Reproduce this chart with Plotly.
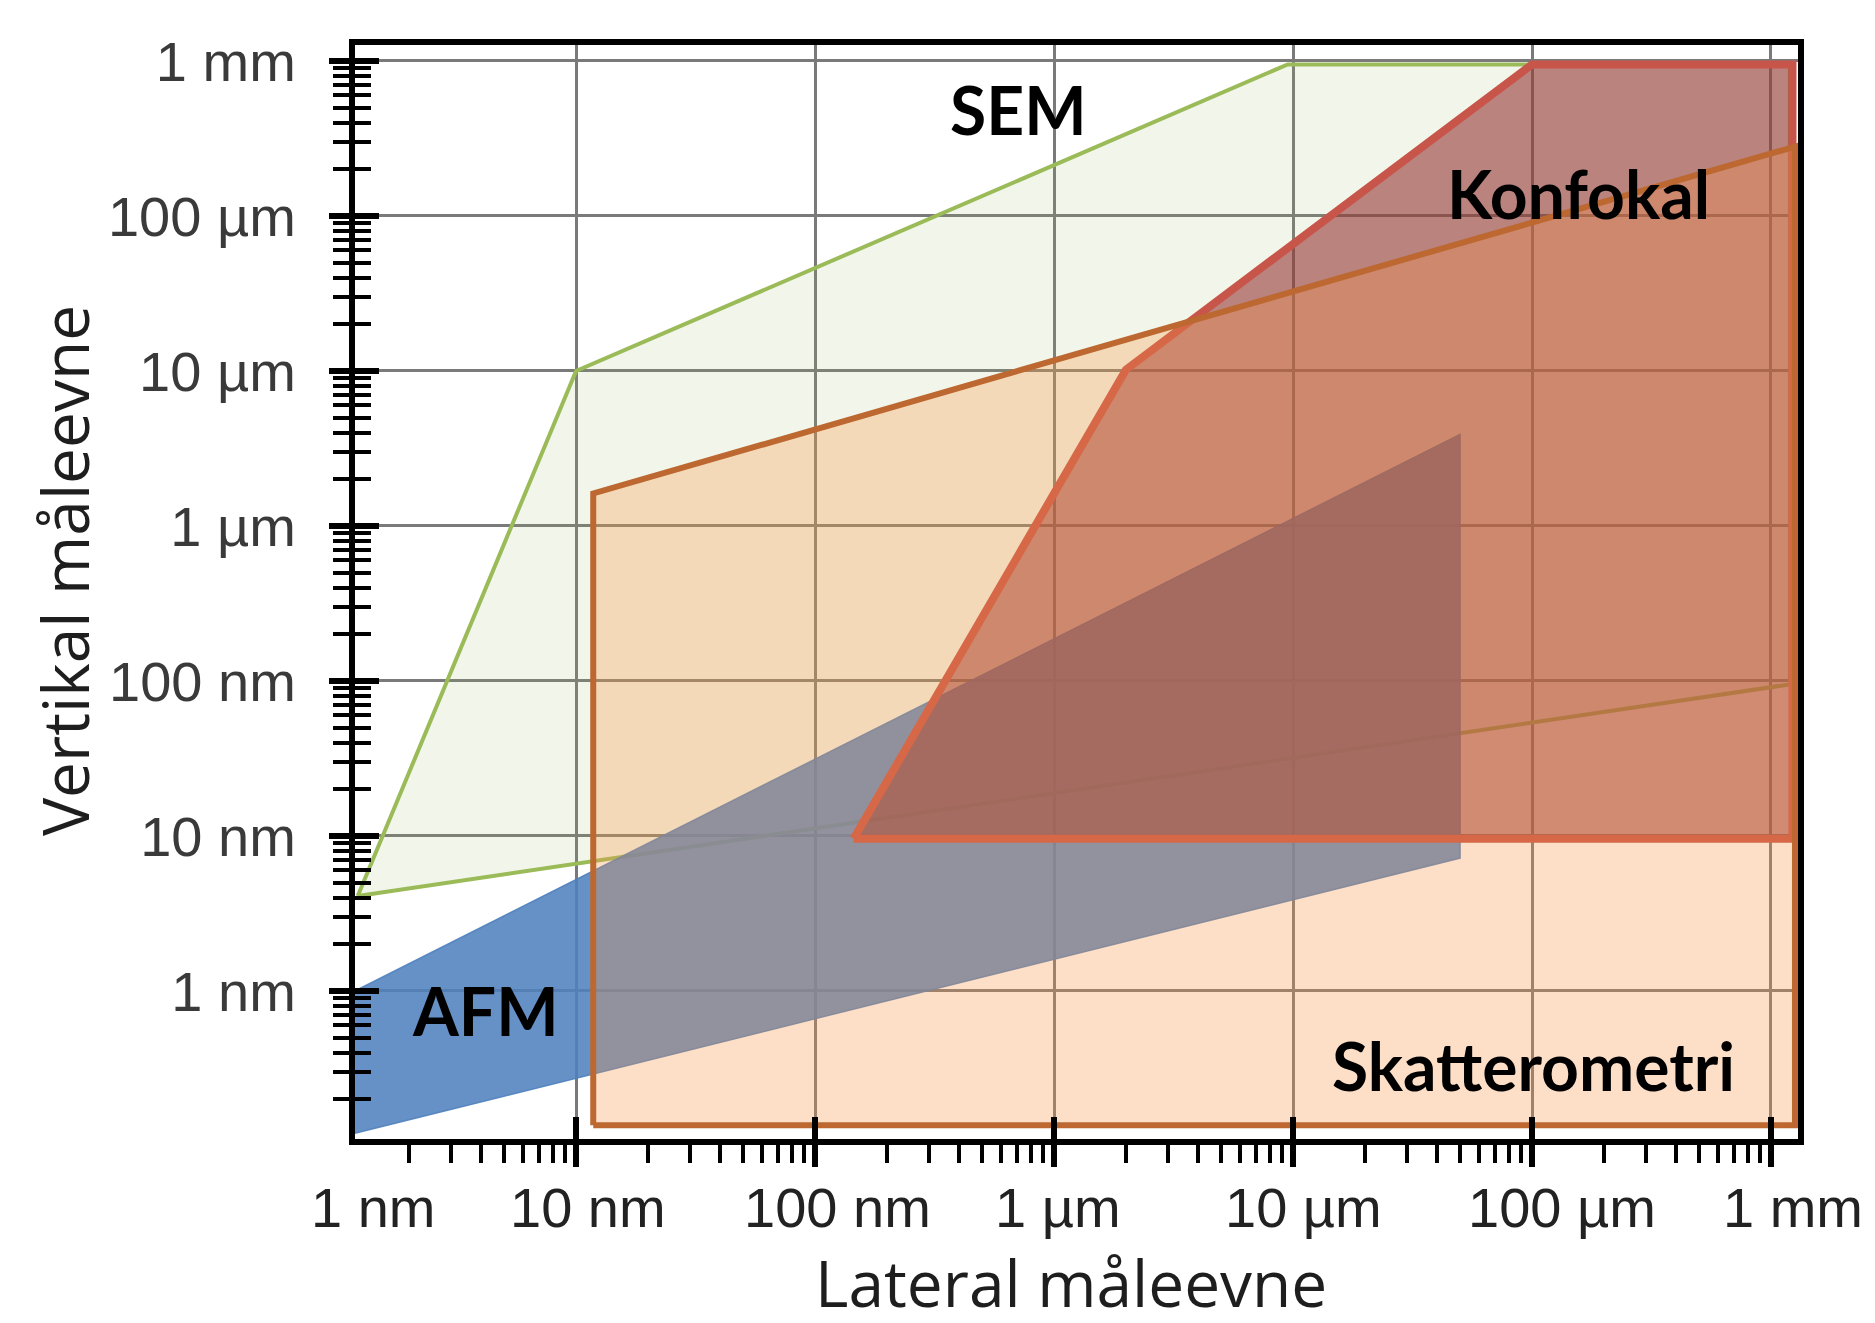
import math
import plotly.graph_objects as go

# ---------------- data (all values in nm) ----------------
SEM_LATERAL = [1.22, 10, 9.5e3, 1.2e6, 1.2e6, 1.22]
SEM_VERTICAL = [4.1, 1.0e4, 9.5e5, 9.5e5, 95, 4.1]

AFM_LATERAL = [1, 5.0e4, 5.0e4, 1, 1]
AFM_VERTICAL = [0.875, 3.9e3, 7.2, 0.113, 0.875]

KONFOKAL_LATERAL = [145, 2.0e3, 1.0e5, 1.23e6, 1.23e6, 145]
KONFOKAL_VERTICAL = [9.6, 1.02e4, 9.5e5, 9.5e5, 9.6, 9.6]

SKATT_LATERAL = [11.8, 11.8, 1.26e6, 1.26e6, 11.8]
SKATT_VERTICAL = [0.136, 1.62e3, 2.8e5, 0.136, 0.136]

TICK_VALS = [1, 10, 100, 1e3, 1e4, 1e5, 1e6]
X_TICK_TEXT = ["1 nm", "10 nm", "100 nm", "1 µm", "10 µm", "100 µm", "1 mm"]
Y_TICK_TEXT = ["1 nm", "10 nm", "100 nm", "1 µm", "10 µm", "100 µm", "1 mm"]

REGION_LABELS = ["SEM", "Konfokal", "AFM", "Skatterometri"]

# ---------------- styling ----------------
X_RANGE = [0.075, 6.113]      # log10(nm)
Y_RANGE = [-0.955, 6.103]
X_LABEL_SHIFT_PX = [36, 12, 22, 4, 10, 30, 22]
REGION_LABEL_POS = [(2.853, 5.684), (5.196, 5.142), (0.623, -0.129), (5.008, -0.484)]
MINOR_VALS = [m * 10 ** k for k in range(-1, 7) for m in range(2, 10)]

fig = go.Figure()


def poly(xs, ys, fill, line_color, lw):
    fig.add_trace(go.Scatter(
        x=xs, y=ys, mode="lines", fill="toself", fillcolor=fill,
        line=dict(color=line_color, width=lw), hoverinfo="skip",
        showlegend=False))


poly(SEM_LATERAL, SEM_VERTICAL, "rgba(155,187,89,0.13)", "#9BBB59", 4)
poly(AFM_LATERAL, AFM_VERTICAL, "rgba(79,129,189,0.87)", "rgba(79,129,189,0.9)", 1.5)
poly(KONFOKAL_LATERAL, KONFOKAL_VERTICAL, "rgba(149,55,53,0.6)", "#C8554A", 8)
poly(SKATT_LATERAL, SKATT_VERTICAL, "rgba(247,150,70,0.30)", "#BC6830", 6)

# invisible trace for overlay axes (crossing ticks)
fig.add_trace(go.Scatter(x=[1e3], y=[1e3], xaxis="x2", yaxis="y2", mode="markers",
                         marker=dict(opacity=0), hoverinfo="skip", showlegend=False))

tick_font = dict(family="Liberation Sans, Arial, sans-serif", size=56, color="#3a3a3a")

fig.update_layout(
    width=1875, height=1323,
    margin=dict(l=347, r=85, t=37, b=192, pad=0),
    plot_bgcolor="white", paper_bgcolor="white",
    xaxis=dict(
        type="log", range=X_RANGE, tickmode="array", tickvals=TICK_VALS,
        showticklabels=False, ticks="outside", ticklen=22, tickwidth=6, tickcolor="black",
        minor=dict(tickmode="array", tickvals=MINOR_VALS, ticks="outside", ticklen=18,
                   tickwidth=4, tickcolor="black", showgrid=False),
        showgrid=True, gridcolor="#7a7a7a", gridwidth=2.5,
        showline=True, linecolor="black", linewidth=6, mirror=True, zeroline=False,
    ),
    yaxis=dict(
        type="log", range=Y_RANGE, tickmode="array", tickvals=TICK_VALS, ticktext=Y_TICK_TEXT,
        tickfont=tick_font, ticklabelstandoff=22,
        ticks="outside", ticklen=20, tickwidth=6, tickcolor="black",
        minor=dict(tickmode="array", tickvals=MINOR_VALS, ticks="outside", ticklen=16,
                   tickwidth=4, tickcolor="black", showgrid=False),
        showgrid=True, gridcolor="#7a7a7a", gridwidth=2.5,
        showline=True, linecolor="black", linewidth=6, mirror=True, zeroline=False,
    ),
    xaxis2=dict(
        type="log", range=X_RANGE, overlaying="x", anchor="y2", side="bottom",
        tickmode="array", tickvals=TICK_VALS, showticklabels=False,
        ticks="inside", ticklen=22, tickwidth=6, tickcolor="black",
        showgrid=False, showline=False, zeroline=False,
    ),
    yaxis2=dict(
        type="log", range=Y_RANGE, overlaying="y", anchor="x2", side="left",
        tickmode="array", tickvals=TICK_VALS, showticklabels=False,
        ticks="inside", ticklen=24, tickwidth=6, tickcolor="black",
        minor=dict(tickmode="array", tickvals=MINOR_VALS, ticks="inside", ticklen=16,
                   tickwidth=4, tickcolor="black", showgrid=False),
        showgrid=False, showline=False, zeroline=False,
    ),
)

annotations = []
# x tick labels (placed in paper coordinates so the 1 nm label outside the range shows)
span = X_RANGE[1] - X_RANGE[0]
for v, lab, sh in zip(TICK_VALS, X_TICK_TEXT, X_LABEL_SHIFT_PX):
    annotations.append(dict(
        x=(math.log10(v) - X_RANGE[0]) / span, xref="paper", y=-0.032, yref="paper",
        text=lab, showarrow=False, xanchor="center", yanchor="top", xshift=sh,
        font=dict(family="Liberation Sans, Arial, sans-serif", size=56, color="#222222")))

# axis titles
title_font = dict(family="Open Sans, Lato, sans-serif", size=64, color="#1e1e1e")
annotations.append(dict(x=0.496, y=-0.131, xref="paper", yref="paper",
                        text="Lateral måleevne", showarrow=False,
                        xanchor="center", yanchor="middle", font=title_font))
annotations.append(dict(x=-0.2017, y=0.520, xref="paper", yref="paper",
                        text="Vertikal måleevne", showarrow=False, textangle=-90,
                        xanchor="center", yanchor="middle", font=title_font))

# region labels
for lab, (lx, ly) in zip(REGION_LABELS, REGION_LABEL_POS):
    annotations.append(dict(x=lx, y=ly, xref="x", yref="y", text="<b>%s</b>" % lab,
                            showarrow=False, xanchor="center", yanchor="middle",
                            font=dict(family="Lato, Open Sans, sans-serif", size=66,
                                      color="black")))

fig.update_layout(annotations=annotations)

fig.write_html("out.html")
